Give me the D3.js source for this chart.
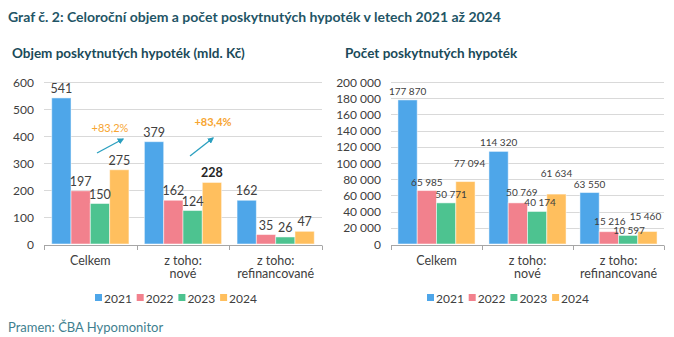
<!DOCTYPE html>
<html>
<head>
<meta charset="utf-8">
<script src="https://cdn.jsdelivr.net/npm/d3@7"></script>
<style>
  body { margin: 0; background: #fff; }
  text { font-family: Lato, "Open Sans", sans-serif; }
</style>
</head>
<body>
<div id="chart"></div>
<script>
// data
var categories = ["Celkem", "z toho:|nové", "z toho:|refinancované"]
var years = ["2021", "2022", "2023", "2024"]
var colors = ["#4ea6e9", "#f2818d", "#4dc390", "#ffbf5e"]

var vol2021 = [541, 379, 162]
var vol2022 = [197, 162, 35]
var vol2023 = [150, 124, 26]
var vol2024 = [275, 228, 47]
var volTicks = [0, 100, 200, 300, 400, 500, 600]

var cnt2021 = [177870, 114320, 63550]
var cnt2022 = [65985, 50769, 15216]
var cnt2023 = [50771, 40174, 10597]
var cnt2024 = [77094, 61634, 15460]
var cntTicks = [0, 20000, 40000, 60000, 80000, 100000, 120000, 140000, 160000, 180000, 200000]

var growthLabels = ["+83,2%", "+83,4%"]

var width = 674
var height = 337

var cz = d3.formatLocale({decimal: ",", thousands: "\u00a0", grouping: [3], currency: ["", " Kč"]})
var fmt = cz.format(",d")

var svg = d3.select("#chart")
  .append("svg")
    .attr("width", width)
    .attr("height", height)

// titles
svg.append("text")
  .attr("x", 8).attr("y", 22)
  .attr("font-size", 14).attr("font-weight", "bold")
  .attr("fill", "#1f5566")
  .text("Graf č. 2: Celoroční objem a počet poskytnutých hypoték v letech 2021 až 2024")

svg.append("text")
  .attr("x", 12).attr("y", 58)
  .attr("font-size", 13.5).attr("font-weight", "bold")
  .attr("fill", "#1a4a59")
  .text("Objem poskytnutých hypoték (mld. Kč)")

svg.append("text")
  .attr("x", 345).attr("y", 58)
  .attr("font-size", 13.5).attr("font-weight", "bold")
  .attr("fill", "#1a4a59")
  .text("Počet poskytnutých hypoték")

svg.append("text")
  .attr("x", 8).attr("y", 332)
  .attr("font-size", 13)
  .attr("fill", "#3f7f8f")
  .text("Pramen: ČBA Hypomonitor")

// small offsets for labels that Excel moved away from the bar top
var nudge = {
  "cnt-3-0": [4, -10], "cnt-2-0": [5, 0], "cnt-1-1": [4, -2], "cnt-2-1": [3, 0],
  "cnt-3-1": [0, -12], "cnt-1-2": [1, -2], "cnt-2-2": [1, 4], "cnt-3-2": [-2, -6]
}

function drawChart(opt) {
  var g = svg.append("g")

  var x0 = d3.scaleBand().domain(categories).range([opt.left, opt.right])
  var x1 = d3.scaleBand().domain(years).range([0, x0.bandwidth()])
    .paddingInner(0).paddingOuter(opt.pad)
  var y = d3.scaleLinear().domain([0, opt.max]).range([244, 82])

  // gridlines
  g.selectAll(".grid")
    .data(opt.ticks.slice(1))
    .enter().append("line")
      .attr("x1", opt.left).attr("x2", opt.right)
      .attr("y1", function(d) { return Math.round(y(d)) + 0.5 }).attr("y2", function(d) { return Math.round(y(d)) + 0.5 })
      .attr("stroke", "#d9d9d9").attr("stroke-width", 1)

  // y labels
  g.selectAll(".ylab")
    .data(opt.ticks)
    .enter().append("text")
      .attr("x", opt.left - 10)
      .attr("y", function(d) { return y(d) + 4.5 })
      .attr("text-anchor", "end")
      .attr("font-size", 12)
      .attr("fill", "#404040")
      .text(function(d) { return fmt(d) })

  // bars
  opt.series.forEach(function(vals, s) {
    g.selectAll(".bar" + s)
      .data(vals)
      .enter().append("rect")
        .attr("x", function(d, i) { return x0(categories[i]) + x1(years[s]) })
        .attr("y", function(d) { return y(d) })
        .attr("width", x1.bandwidth())
        .attr("height", function(d) { return y(0) - y(d) })
        .attr("fill", colors[s])
        .attr("stroke", "#fff").attr("stroke-opacity", 0.5).attr("stroke-width", 1)
  })

  // value labels
  opt.series.forEach(function(vals, s) {
    g.selectAll(".lab" + s)
      .data(vals)
      .enter().append("text")
        .attr("x", function(d, i) {
          var n = nudge[opt.key + "-" + s + "-" + i]
          return x0(categories[i]) + x1(years[s]) + x1.bandwidth() / 2 + (n ? n[0] : 0)
        })
        .attr("y", function(d, i) {
          var n = nudge[opt.key + "-" + s + "-" + i]
          return y(d) - 5 + (n ? n[1] : 0)
        })
        .attr("text-anchor", "middle")
        .attr("font-size", opt.labelSize)
        .attr("font-weight", function(d, i) { return (opt.key == "vol" && s == 3 && i == 1) ? "bold" : "normal" })
        .attr("fill", function(d, i) { return (opt.key == "vol" && s == 3 && i == 1) ? "#262626" : "#404040" })
        .text(function(d) { return fmt(d) })
  })

  // x axis
  g.append("line")
    .attr("x1", opt.left).attr("x2", opt.right)
    .attr("y1", 245.5).attr("y2", 245.5)
    .attr("stroke", "#a6a6a6")
  var edges = categories.map(function(c) { return x0(c) }).concat([opt.right])
  g.selectAll(".tick")
    .data(edges)
    .enter().append("line")
      .attr("x1", function(d) { return Math.round(d) + 0.5 }).attr("x2", function(d) { return Math.round(d) + 0.5 })
      .attr("y1", 245.5).attr("y2", 250)
      .attr("stroke", "#a6a6a6")

  // category labels
  categories.forEach(function(c) {
    c.split("|").forEach(function(line, k) {
      g.append("text")
        .attr("x", x0(c) + x0.bandwidth() / 2)
        .attr("y", 264.5 + k * 13.5)
        .attr("text-anchor", "middle")
        .attr("font-size", 12.5)
        .attr("fill", "#404040")
        .text(line)
    })
  })

  // legend
  years.forEach(function(yr, s) {
    var lx = opt.legendX + s * 41.7
    g.append("rect")
      .attr("x", lx).attr("y", 294)
      .attr("width", 7).attr("height", 7)
      .attr("fill", colors[s])
    g.append("text")
      .attr("x", lx + 9).attr("y", 302.5)
      .attr("font-size", 12)
      .attr("fill", "#404040")
      .text(yr)
  })

  return {x0: x0, x1: x1, y: y}
}

drawChart({
  key: "vol", left: 44, right: 322, pad: 0.4, max: 600, ticks: volTicks,
  series: [vol2021, vol2022, vol2023, vol2024], labelSize: 12.5, legendX: 95
})

drawChart({
  key: "cnt", left: 391, right: 664, pad: 0.36, max: 200000, ticks: cntTicks,
  series: [cnt2021, cnt2022, cnt2023, cnt2024], labelSize: 10, legendX: 427
})

// growth annotations on the left chart
var defs = svg.append("defs")
defs.append("marker")
  .attr("id", "arr")
  .attr("viewBox", "0 0 10 10")
  .attr("refX", 8).attr("refY", 5)
  .attr("markerWidth", 5).attr("markerHeight", 5)
  .attr("orient", "auto")
  .append("path")
    .attr("d", "M0,0 L10,5 L0,10 z")
    .attr("fill", "#2a9fbf")

var arrows = [[97, 153, 123, 139], [190, 156, 213, 138]]
var growthPos = [[110, 132], [213, 126]]
arrows.forEach(function(a, i) {
  svg.append("line")
    .attr("x1", a[0]).attr("y1", a[1]).attr("x2", a[2]).attr("y2", a[3])
    .attr("stroke", "#2a9fbf").attr("stroke-width", 1.3)
    .attr("marker-end", "url(#arr)")
  svg.append("text")
    .attr("x", growthPos[i][0]).attr("y", growthPos[i][1])
    .attr("text-anchor", "middle")
    .attr("font-size", 11)
    .attr("font-weight", i == 1 ? "bold" : "normal")
    .attr("fill", "#f7a531")
    .text(growthLabels[i])
})
</script>
</body>
</html>
